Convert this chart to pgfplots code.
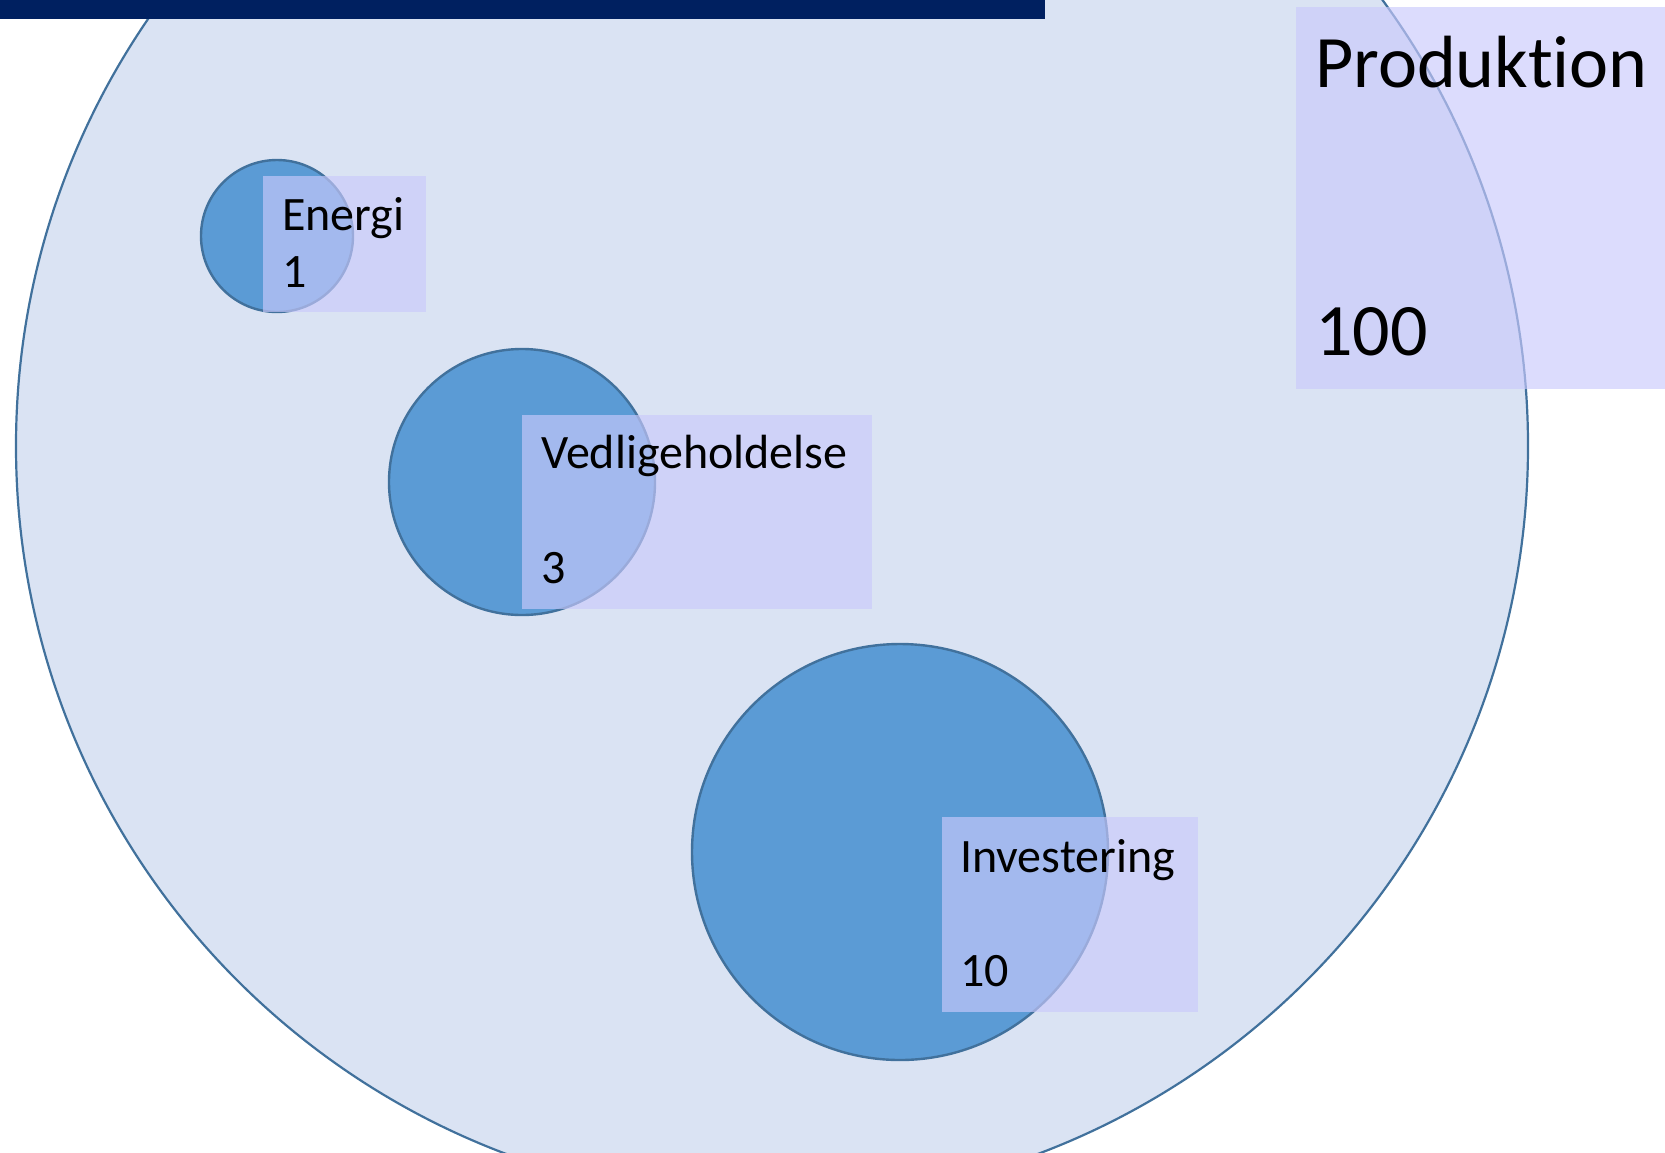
\documentclass[border=0pt]{standalone}
\usepackage{fontspec}
\setmainfont{Carlito}[Ligatures={NoCommon,TeX}]
\usepackage{pgfplots}
\pgfplotsset{compat=1.18}
\definecolor{bigfill}{HTML}{DAE3F3}
\definecolor{circfill}{HTML}{5B9BD5}
\definecolor{circline}{HTML}{41719C}
\definecolor{boxfill}{HTML}{CACAFC}
\definecolor{navy}{HTML}{002060}
\begin{document}
\begin{tikzpicture}
\begin{axis}[
  x=1pt, y=1pt, scale only axis,
  xmin=0, xmax=1665, ymin=0, ymax=1152,
  y dir=reverse, hide axis,
  clip=true, clip marker paths=true,
  anchor=south west, at={(0,0)},
]
% Produktion (100)
\addplot[only marks, mark=*, mark size=756pt,
  mark options={fill=bigfill, draw=circline, line width=2.2pt}] coordinates {(772,446)};
% title bar
\addplot[fill=navy, draw=none] coordinates {(0,0) (1045,0) (1045,19) (0,19)} -- cycle;
% Energi (1)
\addplot[only marks, mark=*, mark size=76pt,
  mark options={fill=circfill, draw=circline, line width=2.4pt}] coordinates {(277,236)};
% Vedligeholdelse (3)
\addplot[only marks, mark=*, mark size=133pt,
  mark options={fill=circfill, draw=circline, line width=2.4pt}] coordinates {(522,482)};
% Investering (10)
\addplot[only marks, mark=*, mark size=208pt,
  mark options={fill=circfill, draw=circline, line width=2.4pt}] coordinates {(900,852)};
% label boxes
\addplot[fill=boxfill, fill opacity=0.65, draw=none] coordinates {(263,176) (426,176) (426,312) (263,312)} -- cycle;
\addplot[fill=boxfill, fill opacity=0.65, draw=none] coordinates {(522,415) (872,415) (872,609) (522,609)} -- cycle;
\addplot[fill=boxfill, fill opacity=0.65, draw=none] coordinates {(942,817) (1198,817) (1198,1012) (942,1012)} -- cycle;
\addplot[fill=boxfill, fill opacity=0.65, draw=none] coordinates {(1296,7) (1665,7) (1665,389) (1296,389)} -- cycle;
% texts
\node[anchor=base west, inner sep=0pt, font=\fontsize{48}{58}\selectfont] at (axis cs:282,230) {Energi};
\node[anchor=base west, inner sep=0pt, font=\fontsize{48}{58}\selectfont] at (axis cs:282,287) {1};
\node[anchor=base west, inner sep=0pt, font=\fontsize{48}{58}\selectfont] at (axis cs:541,468) {Vedligeholdelse};
\node[anchor=base west, inner sep=0pt, font=\fontsize{48}{58}\selectfont] at (axis cs:960,872) {Investering};
\node[anchor=base west, inner sep=0pt, font=\fontsize{48}{58}\selectfont] at (axis cs:541,583) {3};
\node[anchor=base west, inner sep=0pt, font=\fontsize{48}{58}\selectfont] at (axis cs:960,986) {10};
\node[anchor=base west, inner sep=0pt, font=\fontsize{74}{88}\selectfont] at (axis cs:1315,87) {Produktion};
\node[anchor=base west, inner sep=0pt, font=\fontsize{74}{88}\selectfont] at (axis cs:1315,355) {100};
\end{axis}
\pgfresetboundingbox
\useasboundingbox (0,0) rectangle (1665pt,1152pt);
\end{tikzpicture}
\end{document}
